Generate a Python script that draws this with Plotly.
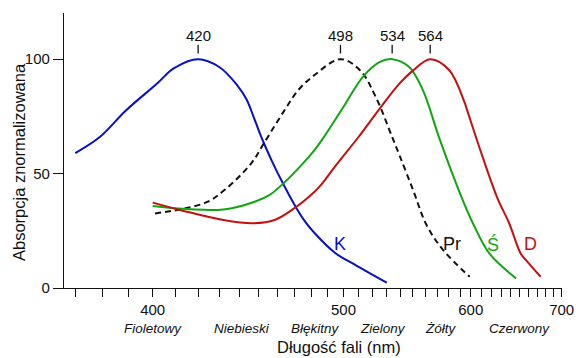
import numpy as np
import plotly.graph_objects as go

# ---- data (wavelength in nm, normalized absorption) ----
K_nm = [370, 379, 389, 402, 409, 420, 430, 439, 443.6, 447, 450.5, 453.2, 457.7, 463.2, 469.9, 475.2, 481, 495, 508, 530]
K_val = [59, 66, 77.5, 89.5, 96, 100, 96.6, 88.5, 82.5, 75.5, 67.8, 62.5, 54.5, 45.8, 36.3, 29.9, 24.6, 15.1, 10, 2.3]

Pr_nm = [401, 412, 424, 432.7, 446, 452.8, 464.2, 472, 481.7, 498, 511, 522, 534, 540, 550, 561, 575, 599]
Pr_val = [32.6, 34.4, 37.5, 42.9, 54.4, 63.3, 77.8, 86.5, 93.1, 100, 95.2, 83.5, 66, 57.3, 43, 27.5, 16.6, 4.9]

S_nm = [400, 416, 432, 447.9, 455.9, 463.2, 474.8, 481.7, 486.8, 500, 513, 525, 534, 547, 558, 571.7, 590.9, 602, 618, 646]
S_val = [35.8, 34.4, 34.3, 37.7, 40.7, 45.5, 54.5, 60.3, 65.3, 79.2, 92.3, 98.8, 100, 96.6, 86.5, 65.5, 40.3, 28.3, 15.1, 4.2]

D_nm = [400, 413, 432, 447, 458.6, 470.9, 481.7, 485, 495.3, 510, 525, 539, 550, 564, 580.4, 593.9, 597, 611.3, 626.3, 638.5, 651, 657, 674]
D_val = [37.3, 33.8, 29.7, 28.3, 29.7, 35.5, 42.1, 44.5, 53.8, 66, 78.5, 89, 95, 100, 95.2, 81.5, 77.1, 57.4, 39.2, 28.3, 15.1, 12.2, 4.9]

series_names = ["K", "Pr", "Ś", "D"]
peaks_nm = [420, 498, 534, 564]
peak_labels = ["420", "498", "534", "564"]

tick_nm = list(range(370, 701, 10))
major_nm = [400, 500, 600, 700]

color_names = ["Fioletowy", "Niebieski", "Błękitny", "Zielony", "Żółty", "Czerwony"]
color_name_nm = [400, 441.5, 482, 527.5, 573, 649.5]

label_nm = [498, 583, 622, 662]
label_val = 19.2

x_title = "Długość fali (nm)"
y_title = "Absorpcja znormalizowana"

# ---- styling ----
BLUE = "#0610c4"
GREEN = "#10a610"
RED = "#c4100e"
BLACK = "#111111"
FONT = "Liberation Sans, Arial, sans-serif"

W, H = 576, 358
L, R, T, B = 64, 13.5, 13, 70
pw, ph = W - L - R, H - T - B


def u(nm):
    # axis is linear in wavenumber (1/wavelength)
    return 1000.0 / np.asarray(nm, dtype=float)


def px_to_paper_x(px):
    return (px - L) / pw


def px_to_paper_y(py):
    return (H - B - py) / ph


fig = go.Figure()
curves = [
    (K_nm, K_val, BLUE, "solid"),
    (Pr_nm, Pr_val, BLACK, "6px,4px"),
    (S_nm, S_val, GREEN, "solid"),
    (D_nm, D_val, RED, "solid"),
]
for (nm, val, col, dash), name in zip(curves, series_names):
    fig.add_trace(go.Scatter(
        x=u(nm), y=val, mode="lines", name=name,
        line=dict(color=col, width=2, dash=dash, shape="spline", smoothing=1.0),
        hoverinfo="skip", showlegend=False,
    ))

annotations = []
shapes = []
for p, lab in zip(peaks_nm, peak_labels):
    shapes.append(dict(type="line", xref="x", yref="y", x0=float(u(p)), x1=float(u(p)),
                       y0=102.5, y1=106.3, line=dict(color=BLACK, width=1.3)))
    annotations.append(dict(x=float(u(p)), y=110.3, xref="x", yref="y", text=lab,
                            xanchor="center", yanchor="middle",
                            showarrow=False, font=dict(family=FONT, size=15, color=BLACK)))

label_colors = [BLUE, BLACK, GREEN, RED]
for name, nm, col in zip(series_names, label_nm, label_colors):
    annotations.append(dict(x=float(u(nm)), y=label_val, xref="x", yref="y", text=name,
                            xanchor="center", yanchor="middle",
                            showarrow=False, font=dict(family=FONT, size=18, color=col)))

for name, nm in zip(color_names, color_name_nm):
    annotations.append(dict(x=float(u(nm)), y=px_to_paper_y(328.3), xref="x", yref="paper",
                            text="<i>" + name + "</i>", showarrow=False,
                            xanchor="center", yanchor="middle",
                            font=dict(family=FONT, size=13.5, color=BLACK)))

annotations.append(dict(x=px_to_paper_x(339), y=px_to_paper_y(346.7), xref="paper", yref="paper",
                        text=x_title, showarrow=False, xanchor="center", yanchor="middle",
                        font=dict(family=FONT, size=16.5, color=BLACK)))
annotations.append(dict(x=px_to_paper_x(18.5), y=px_to_paper_y(162.5), xref="paper", yref="paper",
                        text=y_title, textangle=-90, showarrow=False,
                        xanchor="center", yanchor="middle",
                        font=dict(family=FONT, size=16.5, color=BLACK)))

fig.update_layout(
    width=W, height=H,
    margin=dict(l=L, r=R, t=T, b=B, pad=0, autoexpand=False),
    paper_bgcolor="white", plot_bgcolor="white",
    font=dict(family=FONT, size=15, color=BLACK),
    annotations=annotations, shapes=shapes,
)
fig.update_xaxes(
    range=[float(u(366)), float(u(700.4))],
    tickvals=u(tick_nm).tolist(),
    ticktext=[str(t) if t in major_nm else "" for t in tick_nm],
    ticks="outside", ticklen=8, tickwidth=1.3, tickcolor=BLACK,
    showline=True, linecolor=BLACK, linewidth=1.3,
    showgrid=False, zeroline=False, automargin=False,
    tickfont=dict(family=FONT, size=15, color=BLACK),
)
fig.update_yaxes(
    range=[0, 120.2],
    tickvals=[0, 50, 100], ticktext=["0", "50", "100"],
    ticks="outside", ticklen=10, tickwidth=1.3, tickcolor=BLACK,
    showline=True, linecolor=BLACK, linewidth=1.3,
    showgrid=False, zeroline=False, automargin=False,
    tickfont=dict(family=FONT, size=15, color=BLACK),
)

fig.write_html("out.html")
